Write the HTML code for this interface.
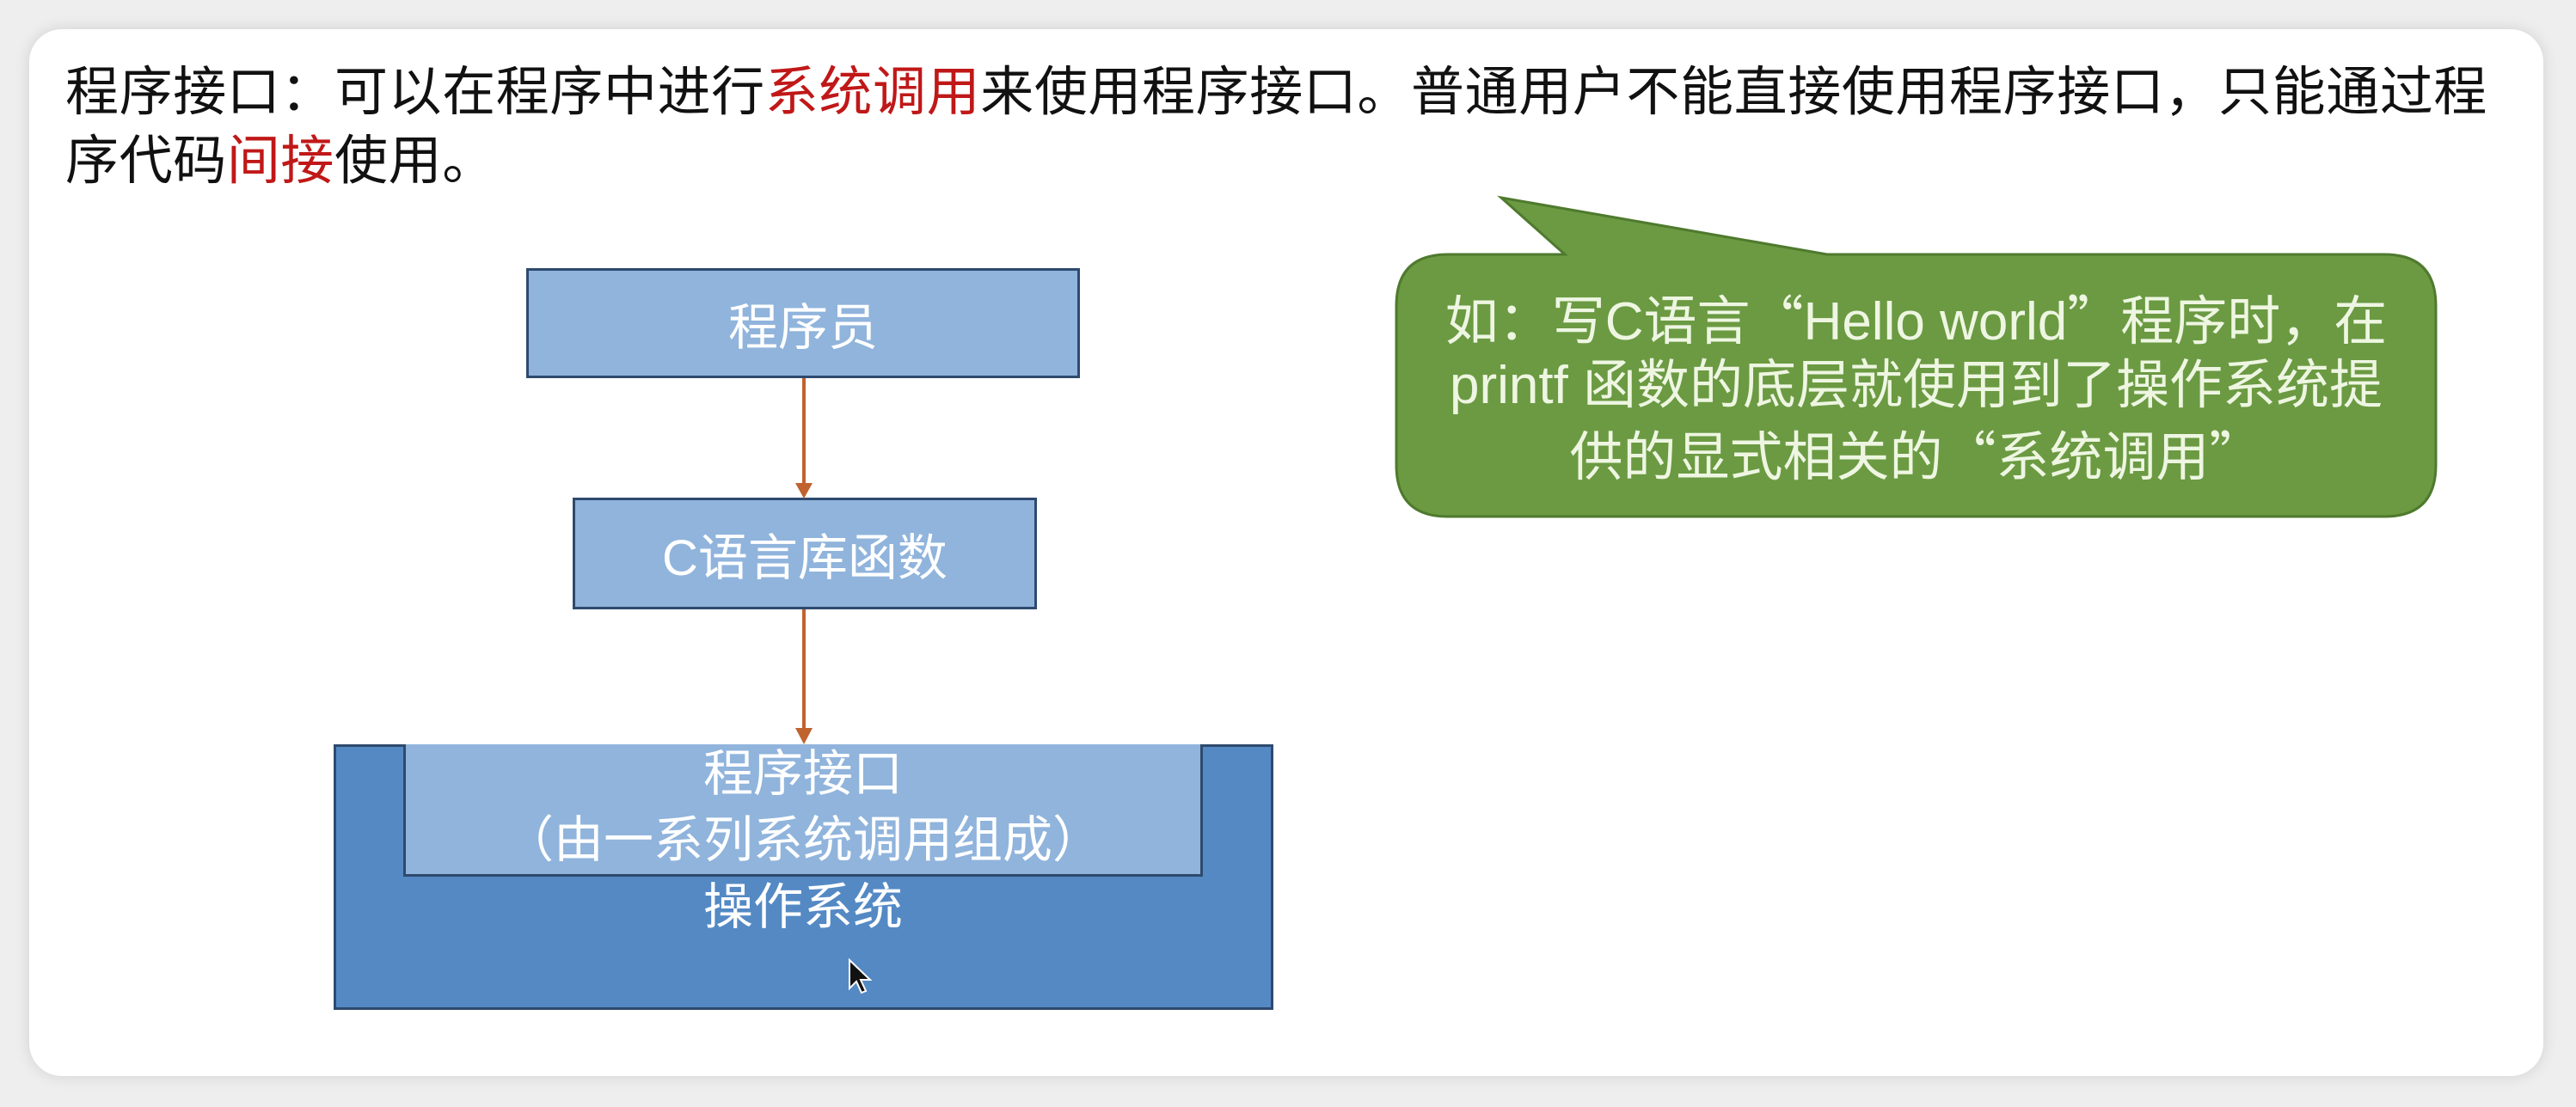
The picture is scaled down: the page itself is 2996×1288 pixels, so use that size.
<!DOCTYPE html>
<html><head><meta charset="utf-8"><style>
html,body{margin:0;padding:0;width:2996px;height:1288px;background:#eeeeee;overflow:hidden}
body{position:relative;font-family:"Liberation Sans","Noto Sans CJK SC",sans-serif}
.card{position:absolute;left:34px;top:34px;width:2924px;height:1218px;background:#fff;border-radius:38px;box-shadow:0 0 18px rgba(0,0,0,0.12)}
.t{position:absolute;left:76px;font-size:62px;color:#111;white-space:nowrap;letter-spacing:0.6px;line-height:80px}
.r{color:#c01818}
.box{position:absolute;box-sizing:border-box;border:3px solid #2e4a6e;background:#90b4dc;color:#fff;display:flex;align-items:center;justify-content:center;font-size:58px}
.w{position:absolute;color:#fff;font-size:58px;text-align:center;white-space:nowrap;transform:translateX(-50%);line-height:70px}
.g{position:absolute;color:#eef6e2;font-size:62px;text-align:center;white-space:nowrap;line-height:76px;left:1624px;width:1209px}
.q{font-family:"Noto Sans CJK SC",sans-serif}
</style></head><body>
<div class="card"></div>
<div class="t" style="top:68px">程序接口：可以在程序中进行<span class="r">系统调用</span>来使用程序接口。普通用户不能直接使用程序接口，只能通过程</div>
<div class="t" style="top:148px">序代码<span class="r">间接</span>使用。</div>

<div class="box" style="left:612px;top:312px;width:644px;height:128px">程序员</div>
<div class="box" style="left:666px;top:579px;width:540px;height:130px">C语言库函数</div>
<div class="box" style="left:388px;top:866px;width:1093px;height:309px;background:#5489c4"></div>
<div class="box" style="left:469px;top:866px;width:930px;height:154px;border-top:none;background:#90b4dc"></div>
<div class="w" style="left:934px;top:866px">程序接口</div>
<div class="w" style="left:934px;top:943px">（由一系列系统调用组成）</div>
<div class="w" style="left:934px;top:1021px">操作系统</div>

<svg width="2996" height="1288" style="position:absolute;left:0;top:0">
<line x1="935" y1="440" x2="935" y2="565" stroke="#c0632e" stroke-width="4"/>
<polygon points="925,562 945,562 935,580" fill="#c0632e"/>
<line x1="935" y1="709" x2="935" y2="850" stroke="#c0632e" stroke-width="4"/>
<polygon points="925,847 945,847 935,866" fill="#c0632e"/>
<path d="M1684,296 L1820,296 L1746,230 L2125,296 L2773,296 Q2833,296 2833,356 L2833,541 Q2833,601 2773,601 L1684,601 Q1624,601 1624,541 L1624,356 Q1624,296 1684,296 Z" fill="#6b9a42" stroke="#4f7a2e" stroke-width="3"/>
<path d="M988,1117 L988,1150 L996,1142 L1002,1155 L1007,1153 L1001,1140 L1012,1140 Z" fill="#111" stroke="#fff" stroke-width="2"/>
</svg>
<div class="g" style="top:330px">如：写C语言<span class="q">“</span>Hello world<span class="q">”</span>程序时，在</div>
<div class="g" style="top:411px">printf 函数的底层就使用到了操作系统提</div>
<div class="g" style="top:488px">供的显式相关的<span class="q">“</span>系统调用<span class="q">”</span></div>
</body></html>
